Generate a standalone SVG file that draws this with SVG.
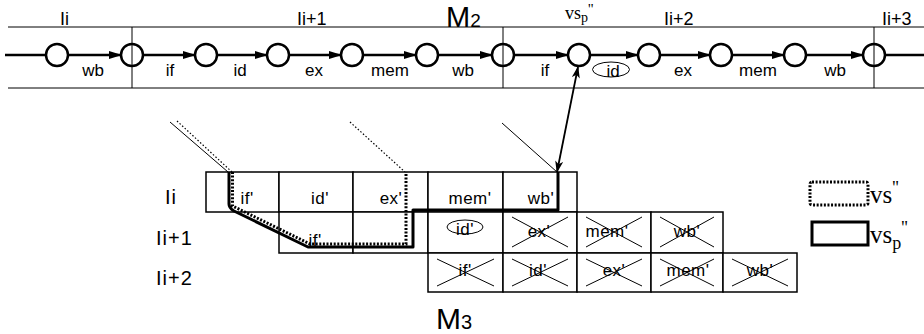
<svg xmlns="http://www.w3.org/2000/svg" width="924" height="334" viewBox="0 0 924 334">
<style>
.bg{fill:#fff}
.st{fill:#fff;stroke:#000;stroke-width:2.5}
.cell{fill:#fff;stroke:#000;stroke-width:1.5}
.t{font-family:"Liberation Sans",Arial,sans-serif;fill:#000}
.lbl{font-size:17px;text-anchor:middle}
.cl{font-size:17px;text-anchor:middle;letter-spacing:0.5px}
.rl{font-size:20px;letter-spacing:1px}
.sf{font-family:"Liberation Serif","Times New Roman",serif;fill:#000}
.chain{stroke:#000;stroke-width:2.5;fill:none}
.thin{stroke:#000;stroke-width:1;fill:none}
.dot{stroke:#000;stroke-width:1.2;fill:none;stroke-dasharray:1.5 2}
.x{stroke:#000;stroke-width:1;fill:none}
.vsp{stroke:#000;stroke-width:3;fill:none;stroke-linejoin:round}
.vs{stroke:#000;stroke-width:3;fill:none;stroke-dasharray:2 1.6}
</style>
<defs>
<marker id="ah" markerUnits="userSpaceOnUse" markerWidth="13" markerHeight="8" refX="12" refY="4" orient="auto">
<path d="M0,0 L13,4 L0,8 z" fill="#000"/>
</marker>
<marker id="ah2" markerUnits="userSpaceOnUse" markerWidth="12" markerHeight="8" refX="11" refY="4" orient="auto-start-reverse">
<path d="M0,0 L12,4 L0,8 L3,4 z" fill="#000"/>
</marker>
</defs>
<rect class="bg" x="0" y="0" width="924" height="334"/>

<g id="band">
<line class="thin" x1="8" y1="27" x2="924" y2="27"/>
<line class="thin" x1="8" y1="88" x2="924" y2="88"/>
<text class="t" x="60" y="25" font-size="18">Ii</text>
<text class="t" x="297" y="25" font-size="18">Ii+1</text>
<text class="t" x="664" y="25" font-size="18">Ii+2</text>
<text class="t" x="882" y="25" font-size="18">Ii+3</text>
<text class="t" x="446" y="27" font-size="29">M<tspan font-size="19">2</tspan></text>
</g>

<g id="connectors">
<line class="chain" x1="5" y1="55" x2="46" y2="55"/>
<line class="chain" x1="68" y1="55" x2="121" y2="55" marker-end="url(#ah)"/>
<line class="chain" x1="143" y1="55" x2="195" y2="55" marker-end="url(#ah)"/>
<line class="chain" x1="217" y1="55" x2="267" y2="55" marker-end="url(#ah)"/>
<line class="chain" x1="289" y1="55" x2="341" y2="55" marker-end="url(#ah)"/>
<line class="chain" x1="363" y1="55" x2="416" y2="55" marker-end="url(#ah)"/>
<line class="chain" x1="438" y1="55" x2="492" y2="55" marker-end="url(#ah)"/>
<line class="chain" x1="514" y1="55" x2="568" y2="55" marker-end="url(#ah)"/>
<line class="chain" x1="590" y1="55" x2="638" y2="55" marker-end="url(#ah)"/>
<line class="chain" x1="660" y1="55" x2="710" y2="55" marker-end="url(#ah)"/>
<line class="chain" x1="732" y1="55" x2="784" y2="55" marker-end="url(#ah)"/>
<line class="chain" x1="806" y1="55" x2="863" y2="55" marker-end="url(#ah)"/>
<line class="chain" x1="885" y1="55" x2="924" y2="55"/>
<line x1="578" y1="67" x2="557" y2="172" stroke="#000" stroke-width="1.8" marker-start="url(#ah2)" marker-end="url(#ah2)"/>
<line class="thin" x1="170" y1="122" x2="228" y2="172"/>
<line class="dot" x1="177" y1="121" x2="232" y2="172"/>
<line class="dot" x1="350" y1="122" x2="405" y2="172"/>
<line class="thin" x1="502" y1="123" x2="557" y2="172"/>
</g>

<g id="chain-labels">
<text class="t lbl" x="93" y="76">wb</text>
<text class="t lbl" x="170" y="76">if</text>
<text class="t lbl" x="240" y="76">id</text>
<text class="t lbl" x="314" y="76">ex</text>
<text class="t lbl" x="390" y="76">mem</text>
<text class="t lbl" x="463" y="76">wb</text>
<text class="t lbl" x="545" y="76">if</text>
<ellipse cx="611" cy="69.5" rx="18.5" ry="7.5" fill="none" stroke="#000" stroke-width="1"/>
<text class="t lbl" x="613" y="77">id</text>
<text class="t lbl" x="683" y="76">ex</text>
<text class="t lbl" x="758" y="76">mem</text>
<text class="t lbl" x="835" y="76">wb</text>
</g>

<g id="states">
<circle class="st" cx="57" cy="55" r="11"/>
<circle class="st" cx="132" cy="55" r="11"/>
<circle class="st" cx="206" cy="55" r="11"/>
<circle class="st" cx="278" cy="55" r="11"/>
<circle class="st" cx="352" cy="55" r="11"/>
<circle class="st" cx="427" cy="55" r="11"/>
<circle class="st" cx="503" cy="55" r="11"/>
<circle class="st" cx="579" cy="55" r="11"/>
<circle class="st" cx="649" cy="55" r="11"/>
<circle class="st" cx="721" cy="55" r="11"/>
<circle class="st" cx="795" cy="55" r="11"/>
<circle class="st" cx="874" cy="55" r="11"/>
<text class="sf" x="565" y="19" font-size="18">vs<tspan font-size="14" dy="3">p</tspan><tspan dy="-8" font-size="15">''</tspan></text>
</g>

<g id="dividers">
<line class="thin" x1="132" y1="27" x2="132" y2="88"/>
<line class="thin" x1="503" y1="27" x2="503" y2="88"/>
<line class="thin" x1="874" y1="27" x2="874" y2="88"/>
</g>

<g id="row1">
<text class="t rl" x="165" y="204">Ii</text>
<rect class="cell" x="206" y="172" width="73" height="40"/>
<rect class="cell" x="279" y="172" width="74" height="40"/>
<rect class="cell" x="353" y="172" width="75" height="40"/>
<rect class="cell" x="428" y="172" width="75" height="40"/>
<rect class="cell" x="503" y="172" width="74" height="40"/>
<text class="t cl" x="247" y="204">if'</text>
<text class="t cl" x="320" y="204">id'</text>
<text class="t cl" x="391" y="204">ex'</text>
<text class="t cl" x="470" y="204">mem'</text>
<text class="t cl" x="541" y="204">wb'</text>
</g>

<g id="row2">
<text class="t rl" x="156" y="245">Ii+1</text>
<rect class="cell" x="279" y="212" width="74" height="41"/>
<rect class="cell" x="353" y="212" width="75" height="41"/>
<rect class="cell" x="428" y="212" width="75" height="41"/>
<rect class="cell" x="503" y="212" width="74" height="41"/>
<rect class="cell" x="577" y="212" width="74" height="41"/>
<rect class="cell" x="651" y="212" width="72" height="41"/>
<text class="t cl" x="315" y="246">if'</text>
<ellipse cx="465" cy="227" rx="18" ry="7" fill="none" stroke="#000" stroke-width="1"/>
<text class="t cl" x="465" y="235">id'</text>
<path class="x" d="M512,217 L568,247 M512,247 L568,217"/>
<text class="t cl" x="539" y="237">ex'</text>
<path class="x" d="M586,217 L642,247 M586,247 L642,217"/>
<text class="t cl" x="607" y="237">mem'</text>
<path class="x" d="M660,217 L714,247 M660,247 L714,217"/>
<text class="t cl" x="687" y="237">wb'</text>
</g>

<g id="row3">
<text class="t rl" x="156" y="285">Ii+2</text>
<rect class="cell" x="428" y="253" width="75" height="39"/>
<rect class="cell" x="503" y="253" width="74" height="39"/>
<rect class="cell" x="577" y="253" width="74" height="39"/>
<rect class="cell" x="651" y="253" width="72" height="39"/>
<rect class="cell" x="723" y="253" width="74" height="39"/>
<path class="x" d="M437,259 L494,286 M437,286 L494,259"/>
<text class="t cl" x="465" y="276">if'</text>
<path class="x" d="M512,259 L568,286 M512,286 L568,259"/>
<text class="t cl" x="538" y="276">id'</text>
<path class="x" d="M586,259 L642,286 M586,286 L642,259"/>
<text class="t cl" x="614" y="276">ex'</text>
<path class="x" d="M660,259 L714,286 M660,286 L714,259"/>
<text class="t cl" x="688" y="276">mem'</text>
<path class="x" d="M732,259 L788,286 M732,286 L788,259"/>
<text class="t cl" x="760" y="276">wb'</text>
</g>

<g id="vs-paths">
<path class="vsp" d="M229,172 L229,204 Q229,208 234,211 L308,247 L413,247 L413,210 L558,210 L558,172"/>
<path class="vs" d="M232.5,172 L232.5,206 L310,244 L406,244 L406,172"/>
</g>

<g id="legend">
<rect x="810" y="182" width="58" height="23" rx="2" fill="none" stroke="#000" stroke-width="3" stroke-dasharray="2 1.6"/>
<text class="sf" x="870" y="203" font-size="25">vs<tspan font-size="18" dy="-9">''</tspan></text>
<rect x="812" y="222" width="56" height="23" fill="none" stroke="#000" stroke-width="3"/>
<text class="sf" x="870" y="243" font-size="25">vs<tspan font-size="18" dy="6">p</tspan><tspan font-size="18" dy="-15">''</tspan></text>
</g>

<g id="m3">
<text class="t" x="436" y="329" font-size="30">M<tspan font-size="20">3</tspan></text>
</g>
</svg>
